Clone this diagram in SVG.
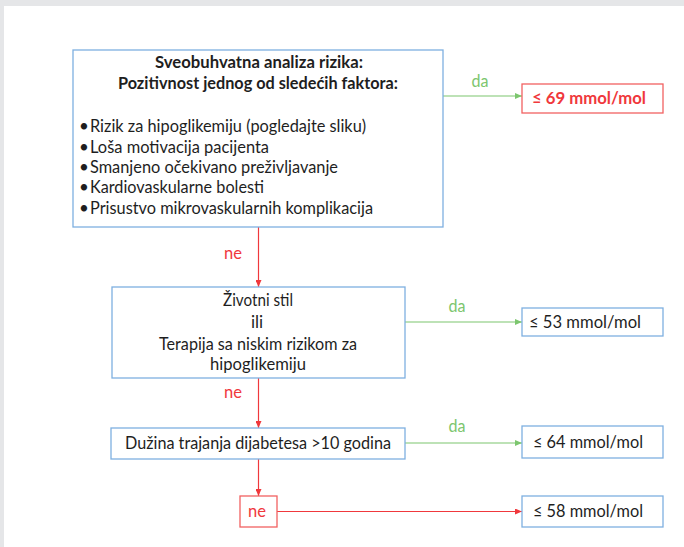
<svg xmlns="http://www.w3.org/2000/svg" width="684" height="547" viewBox="0 0 684 547">
<style>
.t{font-family:Lato,"Liberation Sans",sans-serif;font-size:17px;fill:#1e1e1e}
.b{font-weight:bold}
.box{fill:#fff;stroke:#7eb0e0;stroke-width:1.3}
.rbox{fill:#fff;stroke:#f26161;stroke-width:1.3}
.r{stroke:#f0383c;stroke-width:1.2;fill:none}
.g{stroke:#7cc66e;stroke-width:1.2;fill:none}
.rl{font-family:Lato,"Liberation Sans",sans-serif;font-size:17px;fill:#f0383c}
.gl{font-family:Lato,"Liberation Sans",sans-serif;font-size:17px;fill:#7cc66e}
</style>
<defs>
<marker id="ar" markerWidth="7" markerHeight="6" refX="7" refY="3" orient="auto" markerUnits="userSpaceOnUse"><path d="M0,0 L7,3 L0,6 z" fill="#f0383c"/></marker>
<marker id="ag" markerWidth="7" markerHeight="6" refX="7" refY="3" orient="auto" markerUnits="userSpaceOnUse"><path d="M0,0 L7,3 L0,6 z" fill="#7cc66e"/></marker>
</defs>
<rect x="0" y="0" width="684" height="547" fill="#e5e6e8"/>
<rect x="4" y="6" width="680" height="541" fill="#fff"/>

<g id="connectors">
<line class="g" x1="443" y1="96" x2="522" y2="96" marker-end="url(#ag)"/>
<text class="gl" x="480" y="87" text-anchor="middle" textLength="17" lengthAdjust="spacingAndGlyphs">da</text>
<line class="r" x1="258.5" y1="227" x2="258.5" y2="287" marker-end="url(#ar)"/>
<text class="rl" x="233" y="259" text-anchor="middle" textLength="18" lengthAdjust="spacingAndGlyphs">ne</text>
<line class="g" x1="405" y1="322" x2="522" y2="322" marker-end="url(#ag)"/>
<text class="gl" x="457" y="312" text-anchor="middle" textLength="17" lengthAdjust="spacingAndGlyphs">da</text>
<line class="r" x1="258.5" y1="378" x2="258.5" y2="428" marker-end="url(#ar)"/>
<text class="rl" x="233" y="398" text-anchor="middle" textLength="18" lengthAdjust="spacingAndGlyphs">ne</text>
<line class="g" x1="405" y1="443" x2="522" y2="443" marker-end="url(#ag)"/>
<text class="gl" x="457" y="432" text-anchor="middle" textLength="17" lengthAdjust="spacingAndGlyphs">da</text>
<line class="r" x1="258.5" y1="459" x2="258.5" y2="496" marker-end="url(#ar)"/>
<line class="r" x1="277" y1="511.5" x2="522" y2="511.5" marker-end="url(#ar)"/>
</g>

<g id="risk">
<rect class="box" x="73" y="50" width="370" height="177"/>
<text class="t b" x="259" y="68" text-anchor="middle" textLength="208" lengthAdjust="spacingAndGlyphs">Sveobuhvatna analiza rizika:</text>
<text class="t b" x="258" y="89" text-anchor="middle" textLength="280" lengthAdjust="spacingAndGlyphs">Pozitivnost jednog od sledećih faktora:</text>
<text class="t" x="79" y="132">•</text>
<text class="t" x="90" y="132" textLength="276" lengthAdjust="spacingAndGlyphs">Rizik za hipoglikemiju (pogledajte sliku)</text>
<text class="t" x="79" y="153">•</text>
<text class="t" x="90" y="153" textLength="179" lengthAdjust="spacingAndGlyphs">Loša motivacija pacijenta</text>
<text class="t" x="79" y="173">•</text>
<text class="t" x="90" y="173" textLength="248" lengthAdjust="spacingAndGlyphs">Smanjeno očekivano preživljavanje</text>
<text class="t" x="79" y="193">•</text>
<text class="t" x="90" y="193" textLength="174" lengthAdjust="spacingAndGlyphs">Kardiovaskularne bolesti</text>
<text class="t" x="79" y="214">•</text>
<text class="t" x="90" y="214" textLength="283" lengthAdjust="spacingAndGlyphs">Prisustvo mikrovaskularnih komplikacija</text>
</g>

<g id="r69">
<rect class="rbox" x="522" y="84" width="141" height="29"/>
<text class="t b" x="532" y="104" style="fill:#f0383c" textLength="114" lengthAdjust="spacingAndGlyphs">≤ 69 mmol/mol</text>
</g>

<g id="lifestyle">
<rect class="box" x="112" y="287" width="293" height="91"/>
<text class="t" x="258" y="306" text-anchor="middle" textLength="70" lengthAdjust="spacingAndGlyphs">Životni stil</text>
<text class="t" x="257" y="328" text-anchor="middle">ili</text>
<text class="t" x="258" y="350" text-anchor="middle" textLength="198" lengthAdjust="spacingAndGlyphs">Terapija sa niskim rizikom za</text>
<text class="t" x="258" y="370" text-anchor="middle" textLength="96" lengthAdjust="spacingAndGlyphs">hipoglikemiju</text>
</g>

<g id="r53">
<rect class="box" x="522" y="308" width="141" height="28"/>
<text class="t" x="529" y="328" textLength="112" lengthAdjust="spacingAndGlyphs">≤ 53 mmol/mol</text>
</g>

<g id="duration">
<rect class="box" x="111" y="428" width="294" height="31"/>
<text class="t" x="125" y="449" textLength="266" lengthAdjust="spacingAndGlyphs">Dužina trajanja dijabetesa &gt;10 godina</text>
</g>

<g id="r64">
<rect class="box" x="522" y="426" width="141" height="32"/>
<text class="t" x="533" y="448" textLength="110" lengthAdjust="spacingAndGlyphs">≤ 64 mmol/mol</text>
</g>

<g id="ne">
<rect class="rbox" x="240" y="496" width="37" height="31"/>
<text class="rl" x="257" y="517" text-anchor="middle" textLength="18" lengthAdjust="spacingAndGlyphs">ne</text>
</g>

<g id="r58">
<rect class="box" x="522" y="496" width="141" height="31"/>
<text class="t" x="533" y="517" textLength="110" lengthAdjust="spacingAndGlyphs">≤ 58 mmol/mol</text>
</g>
</svg>
